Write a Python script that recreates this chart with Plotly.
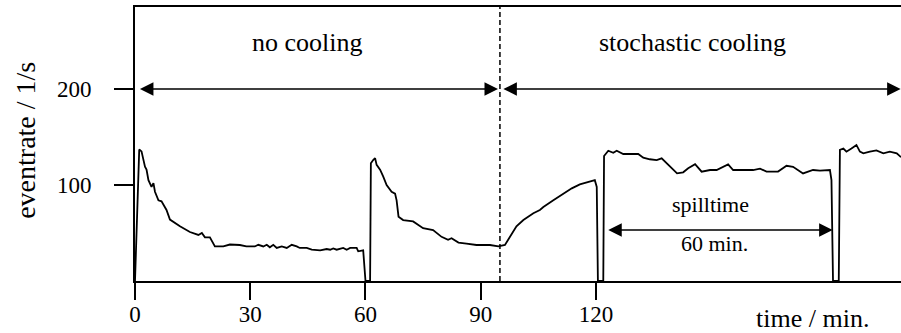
import plotly.graph_objects as go

# ---- data ----
time_min = [0, 1.1, 1.7, 2.2, 2.6, 3.0, 3.5, 4.3, 4.8, 5.2, 6.1, 6.9, 8.2, 9.1, 11.7, 14.3,
            16.5, 17.4, 18.2, 19.5, 20.8, 23.0, 24.7, 27.3, 29.0, 31.2, 32.1, 33.4, 34.3,
            35.1, 36.0, 36.9, 38.2, 39.5, 40.8, 42.1, 42.9, 44.7, 46.0, 48.2, 49.9, 50.8,
            51.6, 52.5, 54.2, 55.1, 56.0, 57.7, 58.1, 59.4, 60.0, 61.2, 61.4, 62.0, 62.5,
            62.9, 63.8, 64.6, 65.5, 66.8, 67.7, 68.1, 68.6, 69.8, 72.4, 75.0, 77.6, 79.8,
            81.5, 82.4, 84.2, 86.3, 88.9, 92.4, 94.6, 96.3, 97.6, 99.3, 101.1, 102.4, 103.7,
            105.4, 106.3, 108.9, 111.5, 113.7, 115.8, 117.6, 119.7, 120.2, 120.5, 121.9,
            122.1, 123.2, 124.5, 125.4, 127.1, 131.0, 132.3, 134.0, 135.8, 137.1, 138.4,
            139.7, 141.1, 142.7, 144.0, 145.8, 147.5, 149.7, 151.4, 154.4, 155.7, 160.9,
            162.7, 164.4, 167.4, 169.6, 171.3, 173.9, 176.5, 178.3, 180.9, 181.3, 181.7,
            183.2, 183.5, 184.4, 185.2, 186.5, 187.8, 188.7, 189.6, 191.3, 193.0, 194.8,
            196.5, 198.3, 199.4]
eventrate = [0, 137, 135, 126, 119, 116, 105, 98, 102, 93, 84, 83, 74, 64, 57, 51,
             48, 50, 45.5, 45.5, 36, 36, 38, 37.5, 36, 36.0, 37.7, 36.0, 37.7,
             35.1, 37.7, 34.4, 36.0, 34.4, 37.7, 36.0, 34.4, 34.4, 32.6, 32.0, 33.3, 32.6,
             34.0, 32.6, 34.4, 32.6, 34.4, 34.4, 30.9, 32.0, 0, 0, 122.6, 126, 128,
             121, 116, 109, 100, 93, 91, 84, 67, 63.5, 62, 55, 53, 46,
             43, 44.5, 40, 39, 37.5, 37.5, 36, 37.5, 46, 57, 63.5, 67, 70.5,
             74, 77, 84, 91, 96.5, 100.7, 102.4, 105, 98, 0, 0,
             130.2, 135.7, 133.6, 135.7, 132.3, 132.3, 128.4, 126.8, 126, 127.8, 122.6,
             118.4, 112.2, 113.2, 117.4, 121.6, 113.9, 115.6, 115.6, 121.5, 115.6, 115.6,
             117, 114, 114, 120, 119, 112, 115.6, 115, 115.6, 105, 0,
             0, 136.5, 138, 134.7, 138, 141.7, 134.7, 133, 134.7, 136, 133,
             134.7, 133, 129]

x_ticks = [0, 30, 60, 90, 120]
y_ticks = [100, 200]

cooling_start = 95          # min, start of stochastic cooling
phase_arrow_level = 200     # 1/s
spill_start, spill_end = 122.8, 181.6
spill_arrow_level = 53
x_max, y_max = 199.4, 285.4

FONT = "'Liberation Serif', 'Times New Roman', Times, 'DejaVu Serif', serif"

fig = go.Figure()
fig.add_trace(go.Scatter(x=time_min, y=eventrate, mode="lines",
                         line=dict(color="black", width=1.8), showlegend=False,
                         hoverinfo="skip"))

# dashed separator
fig.add_shape(type="line", xref="x", yref="paper", x0=cooling_start, x1=cooling_start,
              y0=0, y1=1, line=dict(color="black", width=1.5, dash="5px,3px"))

def darrow(x0, x1, y):
    fig.add_annotation(x=x1, y=y, ax=x0, ay=y, xref="x", yref="y", axref="x", ayref="y",
                       text="", showarrow=True, arrowside="end+start",
                       arrowhead=2, startarrowhead=2, arrowsize=1.8, startarrowsize=1.8,
                       arrowwidth=1.5, arrowcolor="black", standoff=0, startstandoff=0)

darrow(0.9, cooling_start - 0.5, phase_arrow_level)
darrow(cooling_start + 0.5, x_max - 0.1, phase_arrow_level)
darrow(spill_start, spill_end, spill_arrow_level)

def label(x, y, text, size, yref="y"):
    fig.add_annotation(x=x, y=y, xref="x", yref=yref, text=text, showarrow=False,
                       font=dict(family=FONT, size=size, color="black"),
                       xanchor="center", yanchor="middle")

label(44.9, 248.6, "no cooling", 26)
label(145.2, 248.6, "stochastic cooling", 26)
label(149.9, 79.6, "spilltime", 22)
label(150.8, 38.6, "60 min.", 22)
label(176.3, -0.136, "time / min.", 26, yref="paper")

fig.add_annotation(x=-0.1425, y=146.9, xref="paper", yref="y", text="eventrate / 1/s",
                   showarrow=False, textangle=-90,
                   font=dict(family=FONT, size=28, color="black"),
                   xanchor="center", yanchor="middle")

fig.update_layout(
    width=901, height=333,
    margin=dict(l=135, r=0, t=7, b=52),
    paper_bgcolor="white", plot_bgcolor="white",
    font=dict(family=FONT, size=23, color="black"),
    xaxis=dict(range=[0, x_max], tickvals=x_ticks, ticks="outside", ticklen=17,
               tickwidth=2, tickcolor="black", showline=True, linecolor="black",
               linewidth=2, mirror=True, showgrid=False, zeroline=False,
               ticklabelstandoff=-6,
               tickfont=dict(family=FONT, size=23, color="black"), fixedrange=True),
    yaxis=dict(range=[0, y_max], tickvals=y_ticks, ticks="outside", ticklen=19,
               tickwidth=2, tickcolor="black", showline=True, linecolor="black",
               linewidth=2, showgrid=False, zeroline=False, ticklabelstandoff=18,
               tickfont=dict(family=FONT, size=23, color="black"), fixedrange=True),
)

fig.write_html("out.html", config={"displayModeBar": False},
               post_script="document.body.style.margin='0';document.body.style.overflow='hidden';")
